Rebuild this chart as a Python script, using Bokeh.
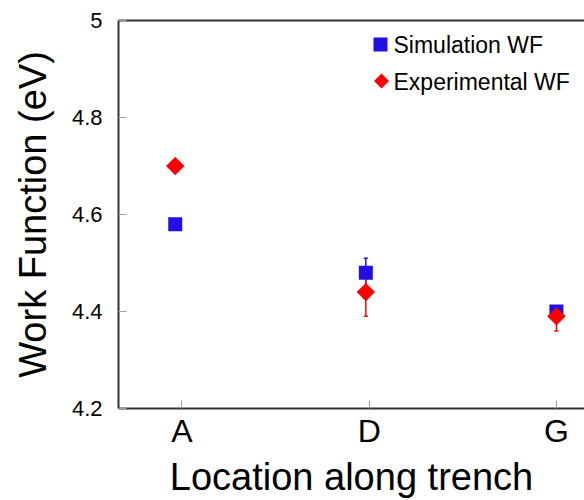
import numpy as np
from bokeh.plotting import figure
from bokeh.models import (ColumnDataSource, Whisker, FixedTicker, LinearAxis, Range1d,
                          Label, BoxAnnotation, PolyAnnotation, TeeHead)
from bokeh.embed import file_html
from bokeh.resources import INLINE

# ---- data ----
categories = ["A", "D", "G"]
cat_ticks = [1, 2, 3]
x_pos = [0.964, 1.982, 3.0]
sim_wf = [4.58, 4.48, 4.40]
sim_err_lo = [0.0, 0.03, 0.0]
sim_err_hi = [0.0, 0.03, 0.0]
exp_wf = [4.70, 4.44, 4.39]
exp_err_lo = [0.0, 0.05, 0.03]
exp_err_hi = [0.0, 0.05, 0.0]
y_ticks = [4.2, 4.4, 4.6, 4.8, 5.0]
y_tick_labels = ["4.2", "4.4", "4.6", "4.8", "5"]
series_names = ["Simulation WF", "Experimental WF"]
x_title = "Location along trench"
y_title = "Work Function (eV)"

FONT = "Liberation Sans"
BLUE = "#2010e6"
RED = "#ff0000"
AXIS_COLOR = "#333333"
TICK_COLOR = "#a0a0a0"

p = figure(width=584, height=500,
           x_range=Range1d(0.661, 3.15), y_range=Range1d(4.2, 5.0),
           output_backend="svg", toolbar_location=None,
           min_border_left=118, min_border_right=0,
           min_border_top=20, min_border_bottom=90)
p.outline_line_color = None
p.xgrid.visible = False
p.ygrid.visible = False
p.background_fill_color = "white"
p.border_fill_color = "white"

# error bars
def err_source(xs, ys, elo, ehi):
    xx, lo, hi = [], [], []
    for x, y, a, b in zip(xs, ys, elo, ehi):
        if a > 0 or b > 0:
            xx.append(x)
            lo.append(y - a)
            hi.append(y + b)
    return ColumnDataSource(dict(x=xx, lo=lo, hi=hi))

for ys, elo, ehi, col in [(sim_wf, sim_err_lo, sim_err_hi, BLUE),
                          (exp_wf, exp_err_lo, exp_err_hi, RED)]:
    src = err_source(x_pos, ys, elo, ehi)
    w = Whisker(base="x", lower="lo", upper="hi", source=src,
                line_color=col, line_width=1.5,
                upper_head=TeeHead(size=4, line_color=col, line_width=1.5),
                lower_head=TeeHead(size=4, line_color=col, line_width=1.5))
    p.add_layout(w)

sim_src = ColumnDataSource(dict(x=x_pos, y=sim_wf))
exp_src = ColumnDataSource(dict(x=x_pos, y=exp_wf))
p.scatter("x", "y", source=sim_src, marker="square", size=14,
          fill_color=BLUE, line_color=None)
p.scatter("x", "y", source=exp_src, marker="square", size=13, angle=np.pi / 4,
          fill_color=RED, line_color=None)

# x axis
xa = p.xaxis[0]
xa.ticker = FixedTicker(ticks=cat_ticks)
xa.major_label_overrides = dict(zip(cat_ticks, categories))
xa.axis_label = x_title
# y axis
ya = p.yaxis[0]
ya.ticker = FixedTicker(ticks=y_ticks)
ya.major_label_overrides = dict(zip(y_ticks, y_tick_labels))
ya.axis_label = y_title

for ax in (xa, ya):
    ax.axis_line_color = AXIS_COLOR
    ax.axis_line_width = 2
    ax.major_tick_in = 8
    ax.major_tick_out = 0
    ax.major_tick_line_color = TICK_COLOR
    ax.minor_tick_line_color = None
    ax.major_label_text_font = FONT
    ax.major_label_text_color = "black"
    ax.axis_label_text_font = FONT
    ax.axis_label_text_font_style = "normal"
    ax.axis_label_text_font_size = "38px"
    ax.axis_label_text_color = "black"

xa.major_label_text_font_size = "32px"
xa.major_label_standoff = 4
xa.axis_label_standoff = 4
ya.major_label_text_font_size = "22px"
ya.major_label_standoff = 16
ya.axis_label_standoff = 15

top = LinearAxis(ticker=FixedTicker(ticks=[]), axis_line_color=AXIS_COLOR,
                 axis_line_width=2, major_tick_line_color=None,
                 minor_tick_line_color=None, major_label_text_font_size="0px")
p.add_layout(top, "above")

# legend (drawn in screen units relative to frame)
p.add_layout(BoxAnnotation(left=255, right=269, bottom=357, top=371,
                           left_units="screen", right_units="screen",
                           bottom_units="screen", top_units="screen",
                           fill_color=BLUE, fill_alpha=1, line_color=None))
p.add_layout(PolyAnnotation(xs=[263, 270.5, 263, 255.5], ys=[335, 327.5, 320, 327.5],
                            xs_units="screen", ys_units="screen",
                            fill_color=RED, fill_alpha=1, line_color=None))
for name, yy in zip(series_names, [364, 327]):
    p.add_layout(Label(x=275, y=yy, x_units="screen", y_units="screen", text=name,
                       text_font=FONT, text_font_size="23px", text_color="black",
                       text_baseline="middle", text_align="left"))

open("out.html", "w").write(file_html(p, INLINE))
